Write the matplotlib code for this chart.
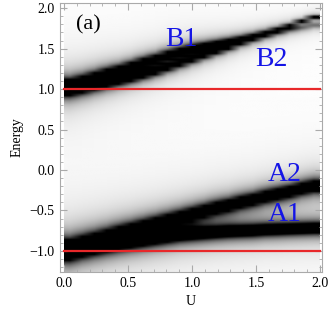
import numpy as np
import matplotlib
matplotlib.use("Agg")
import matplotlib.pyplot as plt
from matplotlib.ticker import MultipleLocator

# Werte (Bandmitten und Breiten je U)
u_vals = [0.0, 0.1, 0.2, 0.3, 0.4, 0.5, 0.6, 0.7, 0.8, 0.9, 1.0,
          1.1, 1.2, 1.3, 1.4, 1.5, 1.6, 1.7, 1.8, 1.9, 2.0]
band_a1 = [-0.99, -0.96, -0.94, -0.92, -0.90, -0.88, -0.86, -0.84, -0.82, -0.80, -0.79,
           -0.78, -0.77, -0.76, -0.755, -0.75, -0.74, -0.735, -0.73, -0.725, -0.72]
band_a2 = [-0.99, -0.94, -0.89, -0.84, -0.79, -0.75, -0.71, -0.67, -0.63, -0.59, -0.55,
           -0.51, -0.47, -0.44, -0.40, -0.37, -0.33, -0.30, -0.27, -0.23, -0.20]
band_b_dark = [1.00, 1.02, 1.05, 1.08, 1.11, 1.14, 1.18, 1.22, 1.27, 1.32, 1.37,
               1.42, 1.47, 1.52, 1.58, 1.63, 1.68, 1.73, 1.78, 1.84, 1.89]
band_b_grey = [1.04, 1.09, 1.14, 1.19, 1.23, 1.28, 1.33, 1.37, 1.42, 1.46, 1.50,
               1.53, 1.56, 1.59, 1.62, 1.65, 1.68, 1.71, 1.74, 1.76, 1.79]
width_a1 = [0.080, 0.079, 0.078, 0.077, 0.076, 0.075, 0.074, 0.073, 0.072, 0.071, 0.070,
            0.069, 0.068, 0.068, 0.067, 0.067, 0.066, 0.066, 0.065, 0.065, 0.065]
width_a2 = [0.080, 0.079, 0.078, 0.077, 0.076, 0.075, 0.075, 0.074, 0.074, 0.073, 0.073,
            0.072, 0.072, 0.071, 0.071, 0.070, 0.070, 0.070, 0.070, 0.070, 0.070]
width_b_dark = [0.060, 0.057, 0.054, 0.051, 0.048, 0.045, 0.043, 0.041, 0.039, 0.037, 0.035,
                0.032, 0.030, 0.028, 0.026, 0.024, 0.022, 0.020, 0.018, 0.016, 0.015]
width_b_grey = [0.060, 0.058, 0.056, 0.054, 0.052, 0.050, 0.049, 0.048, 0.047, 0.046, 0.045,
                0.044, 0.043, 0.042, 0.041, 0.040, 0.040, 0.040, 0.040, 0.040, 0.040]
weight_b_grey = [1.0, 1.0, 1.0, 1.0, 1.0, 1.0, 1.0, 1.0, 1.0, 1.0, 0.95,
                 0.85, 0.75, 0.65, 0.55, 0.48, 0.42, 0.38, 0.34, 0.30, 0.28]
ones = [1.0] * len(u_vals)

bands = [(band_a1, width_a1, ones), (band_a2, width_a2, ones),
         (band_b_dark, width_b_dark, ones), (band_b_grey, width_b_grey, weight_b_grey)]
ref_levels = [1.0, -1.0]
labels = [("B1", 0.79, 1.53), ("B2", 1.49, 1.28), ("A2", 1.59, -0.14), ("A1", 1.59, -0.63)]

# Spektralfunktion (Lorentz-Profile) auf Energie-Gitter
energy = np.linspace(-1.26, 2.07, 500)
dens = np.zeros((len(energy), len(u_vals)))
for centers, gam, wt in bands:
    e0 = np.array(centers)[None, :]
    g = np.array(gam)[None, :]
    dens += np.array(wt)[None, :] * g**2 / ((energy[:, None] - e0)**2 + g**2)

plt.rcParams['font.family'] = ['Liberation Serif', 'DejaVu Serif']

fig = plt.figure(figsize=(3.32, 3.14), dpi=100)
ax = fig.add_axes([0.181, 0.134, 0.789, 0.856])

ax.imshow(dens, origin='lower', aspect='auto', cmap='gray_r', vmin=0, vmax=0.55,
          extent=[u_vals[0], u_vals[-1], energy[0], energy[-1]],
          interpolation='bilinear')

for lvl in ref_levels:
    ax.plot([u_vals[0], u_vals[-1]], [lvl, lvl], color='#e8282a', lw=1.6)

for txt, x, y in labels:
    ax.text(x, y, txt, color='#1414e6', fontsize=20)
ax.text(0.094, 1.74, "(a)", color='black', fontsize=16)

ax.set_xlim(-0.031, 2.016)
ax.set_ylim(-1.259, 2.062)
ax.xaxis.set_major_locator(MultipleLocator(0.5))
ax.xaxis.set_minor_locator(MultipleLocator(0.1))
ax.yaxis.set_major_locator(MultipleLocator(0.5))
ax.yaxis.set_minor_locator(MultipleLocator(0.1))
ax.xaxis.set_major_formatter(lambda v, p: f"{v:.1f}".replace("-", "\u2212"))
ax.yaxis.set_major_formatter(lambda v, p: f"{v:.1f}".replace("-", "\u2212"))
ax.tick_params(which='both', direction='in', top=True, right=True, color='#aaaaaa',
               labelsize=10, pad=4)
ax.tick_params(which='major', length=5)
ax.tick_params(which='minor', length=2.5)
for s in ax.spines.values():
    s.set_color('#aaaaaa')

ax.set_xlabel("U", fontsize=10, labelpad=3)
ax.set_ylabel("Energy", fontsize=10, labelpad=4)

fig.savefig("out.png", dpi=100)
